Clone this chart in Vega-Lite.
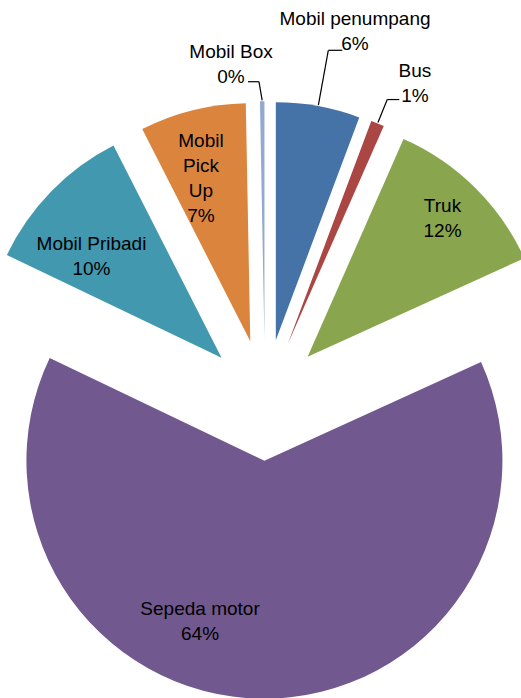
{
  "$schema": "https://vega.github.io/schema/vega-lite/v6.json",
  "width": 521,
  "height": 698,
  "autosize": "none",
  "padding": 0,
  "background": "white",
  "config": {"view": {"stroke": null}},
  "data": {
    "values": [
      {"category": "Mobil penumpang", "name": "Mobil penumpang", "value": 5.7},
      {"category": "Bus", "name": "Bus", "value": 0.9},
      {"category": "Truk", "name": "Truk", "value": 11.6},
      {"category": "Sepeda motor", "name": "Sepeda motor", "value": 63.9},
      {"category": "Mobil Pribadi", "name": "Mobil Pribadi", "value": 10.4},
      {"category": "Mobil Pick Up", "name": "Mobil\nPick\nUp", "value": 7.2},
      {"category": "Mobil Box", "name": "Mobil Box", "value": 0.3}
    ]
  },
  "transform": [
    {"window": [{"op": "sum", "field": "value", "as": "cum"}], "frame": [null, 0]},
    {"calculate": "datum.cum - datum.value", "as": "start"},
    {"calculate": "datum.start + datum.value / 2", "as": "mid"},
    {"calculate": "2 * PI * datum.mid / 100", "as": "ang"},
    {"calculate": "sin(datum.ang)", "as": "ex"},
    {"calculate": "cos(datum.ang)", "as": "ey"},
    {"calculate": "datum.name + '\\n' + format(datum.value / 100, '.0%')", "as": "label"}
  ],
  "layer": [
    {
      "mark": {"type": "arc", "radius": 238},
      "encoding": {
        "x": {"field": "ex", "type": "quantitative", "scale": {"domain": [-4.3657, 4.2175], "nice": false, "zero": false}, "axis": null},
        "y": {"field": "ey", "type": "quantitative", "scale": {"domain": [-4.909, 6.59], "nice": false, "zero": false}, "axis": null},
        "theta": {"field": "start", "type": "quantitative", "stack": null, "scale": {"domain": [0, 100], "range": [0, 6.283185307179586]}},
        "theta2": {"field": "cum"},
        "color": {
          "field": "category", "type": "nominal", "legend": null,
          "scale": {
            "domain": ["Mobil penumpang", "Bus", "Truk", "Sepeda motor", "Mobil Pribadi", "Mobil Pick Up", "Mobil Box"],
            "range": ["#4572A7", "#AA4643", "#89A54E", "#71588F", "#4198AF", "#DB843D", "#93A9CF"]
          }
        }
      }
    },
    {
      "transform": [{"filter": "datum.category === 'Truk'"}],
      "mark": {"type": "text", "radius": 202.3, "thetaOffset": -0.0494, "font": "Liberation Sans", "fontSize": 19, "lineHeight": 25, "lineBreak": "\n", "align": "center", "baseline": "middle", "color": "black"},
      "encoding": {
        "x": {"field": "ex", "type": "quantitative", "scale": {"domain": [-4.3657, 4.2175], "nice": false, "zero": false}, "axis": null},
        "y": {"field": "ey", "type": "quantitative", "scale": {"domain": [-4.909, 6.59], "nice": false, "zero": false}, "axis": null},
        "theta": {"field": "mid", "type": "quantitative", "stack": null, "scale": {"domain": [0, 100], "range": [0, 6.283185307179586]}},
        "text": {"field": "label"}
      }
    },
    {
      "transform": [{"filter": "datum.category === 'Sepeda motor'"}],
      "mark": {"type": "text", "radius": 161.7, "thetaOffset": 0.4002, "font": "Liberation Sans", "fontSize": 19, "lineHeight": 25, "lineBreak": "\n", "align": "center", "baseline": "middle", "color": "black"},
      "encoding": {
        "x": {"field": "ex", "type": "quantitative", "scale": {"domain": [-4.3657, 4.2175], "nice": false, "zero": false}, "axis": null},
        "y": {"field": "ey", "type": "quantitative", "scale": {"domain": [-4.909, 6.59], "nice": false, "zero": false}, "axis": null},
        "theta": {"field": "mid", "type": "quantitative", "stack": null, "scale": {"domain": [0, 100], "range": [0, 6.283185307179586]}},
        "text": {"field": "label"}
      }
    },
    {
      "transform": [{"filter": "datum.category === 'Mobil Pribadi'"}],
      "mark": {"type": "text", "radius": 172.7, "thetaOffset": -0.055, "font": "Liberation Sans", "fontSize": 19, "lineHeight": 25, "lineBreak": "\n", "align": "center", "baseline": "middle", "color": "black"},
      "encoding": {
        "x": {"field": "ex", "type": "quantitative", "scale": {"domain": [-4.3657, 4.2175], "nice": false, "zero": false}, "axis": null},
        "y": {"field": "ey", "type": "quantitative", "scale": {"domain": [-4.909, 6.59], "nice": false, "zero": false}, "axis": null},
        "theta": {"field": "mid", "type": "quantitative", "stack": null, "scale": {"domain": [0, 100], "range": [0, 6.283185307179586]}},
        "text": {"field": "label"}
      }
    },
    {
      "transform": [{"filter": "datum.category === 'Mobil Pick Up'"}],
      "mark": {"type": "text", "radius": 206.1, "thetaOffset": 0.0035, "font": "Liberation Sans", "fontSize": 19, "lineHeight": 25, "lineBreak": "\n", "align": "center", "baseline": "middle", "color": "black"},
      "encoding": {
        "x": {"field": "ex", "type": "quantitative", "scale": {"domain": [-4.3657, 4.2175], "nice": false, "zero": false}, "axis": null},
        "y": {"field": "ey", "type": "quantitative", "scale": {"domain": [-4.909, 6.59], "nice": false, "zero": false}, "axis": null},
        "theta": {"field": "mid", "type": "quantitative", "stack": null, "scale": {"domain": [0, 100], "range": [0, 6.283185307179586]}},
        "text": {"field": "label"}
      }
    },
    {
      "transform": [{"filter": "datum.category === 'Mobil penumpang'"}],
      "mark": {"type": "text", "radius": 330.9, "thetaOffset": 0.0626, "font": "Liberation Sans", "fontSize": 19, "lineHeight": 25, "lineBreak": "\n", "align": "center", "baseline": "middle", "color": "black"},
      "encoding": {
        "x": {"field": "ex", "type": "quantitative", "scale": {"domain": [-4.3657, 4.2175], "nice": false, "zero": false}, "axis": null},
        "y": {"field": "ey", "type": "quantitative", "scale": {"domain": [-4.909, 6.59], "nice": false, "zero": false}, "axis": null},
        "theta": {"field": "mid", "type": "quantitative", "stack": null, "scale": {"domain": [0, 100], "range": [0, 6.283185307179586]}},
        "text": {"field": "label"}
      }
    },
    {
      "transform": [{"filter": "datum.category === 'Bus'"}],
      "mark": {"type": "text", "radius": 300.9, "thetaOffset": 0.0496, "font": "Liberation Sans", "fontSize": 19, "lineHeight": 25, "lineBreak": "\n", "align": "center", "baseline": "middle", "color": "black"},
      "encoding": {
        "x": {"field": "ex", "type": "quantitative", "scale": {"domain": [-4.3657, 4.2175], "nice": false, "zero": false}, "axis": null},
        "y": {"field": "ey", "type": "quantitative", "scale": {"domain": [-4.909, 6.59], "nice": false, "zero": false}, "axis": null},
        "theta": {"field": "mid", "type": "quantitative", "stack": null, "scale": {"domain": [0, 100], "range": [0, 6.283185307179586]}},
        "text": {"field": "label"}
      }
    },
    {
      "transform": [{"filter": "datum.category === 'Mobil Box'"}],
      "mark": {"type": "text", "radius": 289.2, "thetaOffset": -0.1063, "font": "Liberation Sans", "fontSize": 19, "lineHeight": 25, "lineBreak": "\n", "align": "center", "baseline": "middle", "color": "black"},
      "encoding": {
        "x": {"field": "ex", "type": "quantitative", "scale": {"domain": [-4.3657, 4.2175], "nice": false, "zero": false}, "axis": null},
        "y": {"field": "ey", "type": "quantitative", "scale": {"domain": [-4.909, 6.59], "nice": false, "zero": false}, "axis": null},
        "theta": {"field": "mid", "type": "quantitative", "stack": null, "scale": {"domain": [0, 100], "range": [0, 6.283185307179586]}},
        "text": {"field": "label"}
      }
    },
    {
      "transform": [
        {"filter": "datum.category === 'Mobil penumpang'"},
        {"calculate": "4.937 * datum.ex", "as": "ax"},
        {"calculate": "4.937 * datum.ey", "as": "ay"},
        {"calculate": "5.855 * datum.ex", "as": "bx"},
        {"calculate": "5.855 * datum.ey", "as": "by"},
        {"calculate": "datum.bx + 0.23", "as": "cx"}
      ],
      "layer": [
        {
          "mark": {"type": "rule", "color": "black", "strokeWidth": 1.2},
          "encoding": {
            "x": {"field": "ax", "type": "quantitative", "scale": {"domain": [-4.3657, 4.2175], "nice": false, "zero": false}, "axis": null},
            "y": {"field": "ay", "type": "quantitative", "scale": {"domain": [-4.909, 6.59], "nice": false, "zero": false}, "axis": null},
            "x2": {"field": "bx"},
            "y2": {"field": "by"}
          }
        },
        {
          "mark": {"type": "rule", "color": "black", "strokeWidth": 1.2},
          "encoding": {
            "x": {"field": "bx", "type": "quantitative", "scale": {"domain": [-4.3657, 4.2175], "nice": false, "zero": false}, "axis": null},
            "y": {"field": "by", "type": "quantitative", "scale": {"domain": [-4.909, 6.59], "nice": false, "zero": false}, "axis": null},
            "x2": {"field": "cx"},
            "y2": {"field": "by"}
          }
        }
      ]
    },
    {
      "transform": [
        {"filter": "datum.category === 'Bus'"},
        {"calculate": "4.937 * datum.ex", "as": "ax"},
        {"calculate": "4.937 * datum.ey", "as": "ay"},
        {"calculate": "5.344 * datum.ex", "as": "bx"},
        {"calculate": "5.344 * datum.ey", "as": "by"},
        {"calculate": "datum.bx + 0.198", "as": "cx"}
      ],
      "layer": [
        {
          "mark": {"type": "rule", "color": "black", "strokeWidth": 1.2},
          "encoding": {
            "x": {"field": "ax", "type": "quantitative", "scale": {"domain": [-4.3657, 4.2175], "nice": false, "zero": false}, "axis": null},
            "y": {"field": "ay", "type": "quantitative", "scale": {"domain": [-4.909, 6.59], "nice": false, "zero": false}, "axis": null},
            "x2": {"field": "bx"},
            "y2": {"field": "by"}
          }
        },
        {
          "mark": {"type": "rule", "color": "black", "strokeWidth": 1.2},
          "encoding": {
            "x": {"field": "bx", "type": "quantitative", "scale": {"domain": [-4.3657, 4.2175], "nice": false, "zero": false}, "axis": null},
            "y": {"field": "by", "type": "quantitative", "scale": {"domain": [-4.909, 6.59], "nice": false, "zero": false}, "axis": null},
            "x2": {"field": "cx"},
            "y2": {"field": "by"}
          }
        }
      ]
    },
    {
      "transform": [
        {"filter": "datum.category === 'Mobil Box'"},
        {"calculate": "4.937 * datum.ex", "as": "ax"},
        {"calculate": "4.937 * datum.ey", "as": "ay"},
        {"calculate": "5.244 * datum.ex - 0.05", "as": "bx"},
        {"calculate": "5.244 * datum.ey", "as": "by"},
        {"calculate": "datum.bx - 0.181", "as": "cx"}
      ],
      "layer": [
        {
          "mark": {"type": "rule", "color": "black", "strokeWidth": 1.2},
          "encoding": {
            "x": {"field": "ax", "type": "quantitative", "scale": {"domain": [-4.3657, 4.2175], "nice": false, "zero": false}, "axis": null},
            "y": {"field": "ay", "type": "quantitative", "scale": {"domain": [-4.909, 6.59], "nice": false, "zero": false}, "axis": null},
            "x2": {"field": "bx"},
            "y2": {"field": "by"}
          }
        },
        {
          "mark": {"type": "rule", "color": "black", "strokeWidth": 1.2},
          "encoding": {
            "x": {"field": "bx", "type": "quantitative", "scale": {"domain": [-4.3657, 4.2175], "nice": false, "zero": false}, "axis": null},
            "y": {"field": "by", "type": "quantitative", "scale": {"domain": [-4.909, 6.59], "nice": false, "zero": false}, "axis": null},
            "x2": {"field": "cx"},
            "y2": {"field": "by"}
          }
        }
      ]
    }
  ]
}
